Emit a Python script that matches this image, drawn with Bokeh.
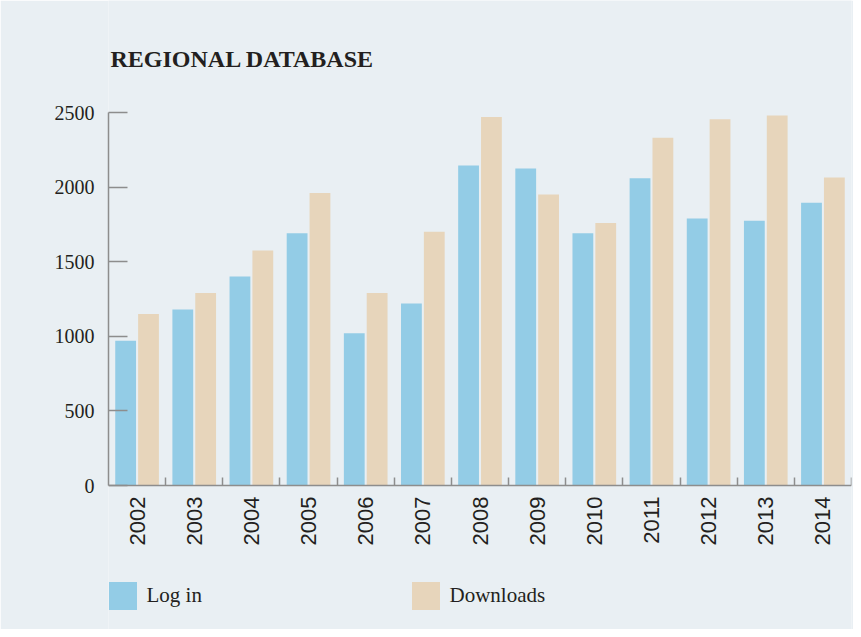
import math
from bokeh.plotting import figure
from bokeh.models import (ColumnDataSource, FixedTicker, Label, Legend, LegendItem, Range1d)
from bokeh.transform import dodge
from bokeh.embed import file_html
from bokeh.resources import INLINE

years = ["2002", "2003", "2004", "2005", "2006", "2007", "2008",
         "2009", "2010", "2011", "2012", "2013", "2014"]
login = [970, 1180, 1400, 1690, 1020, 1220, 2145, 2125, 1690, 2060, 1790, 1775, 1895]
downloads = [1150, 1290, 1575, 1960, 1290, 1700, 2470, 1950, 1760, 2330, 2455, 2480, 2065]
y_ticks = [0, 500, 1000, 1500, 2000, 2500]

BG = "#e9eff3"
BLUE = "#93cce6"
BEIGE = "#e7d5bb"
AXIS = "#8d8d8d"
TEXT = "#231f20"

W, H = 853, 629
FRAME_LEFT, FRAME_RIGHT = 108, 851
Y0_PX, Y2500_PX = 485, 112          # pixel rows of value 0 and 2500
ppu = (Y0_PX - Y2500_PX) / 2500.0    # pixels per unit
y_lo = -(H - Y0_PX) / ppu
y_hi = 2500 + Y2500_PX / ppu

idx = list(range(len(years)))
src = ColumnDataSource(dict(x=idx, login=login, downloads=downloads))

p = figure(width=W, height=H, output_backend="svg", toolbar_location=None,
           title=None,
           x_range=Range1d(-0.5, len(years) - 0.5), y_range=Range1d(y_lo, y_hi),
           min_border_left=FRAME_LEFT, min_border_right=W - FRAME_RIGHT,
           min_border_top=0, min_border_bottom=0)
p.background_fill_color = BG
p.border_fill_color = BG
p.outline_line_color = None
p.grid.visible = False

r1 = p.vbar(x=dodge("x", -0.2, range=p.x_range), top="login", width=0.364,
            source=src, color=BLUE, line_color=None)
r2 = p.vbar(x=dodge("x", 0.2, range=p.x_range), top="downloads", width=0.364,
            source=src, color=BEIGE, line_color=None)

# x axis (sits at value 0 inside the frame)
xa = p.xaxis[0]
xa.fixed_location = 0
xa.ticker = FixedTicker(ticks=idx, minor_ticks=[i + 0.5 for i in idx])
xa.major_label_overrides = {i: y for i, y in zip(idx, years)}
xa.major_tick_line_color = None
xa.minor_tick_in = 8
xa.minor_tick_out = 0
xa.minor_tick_line_color = AXIS
xa.minor_tick_line_width = 1.5
xa.axis_line_color = AXIS
xa.axis_line_width = 1.5
xa.major_label_orientation = math.pi / 2
xa.major_label_text_font = "Liberation Sans"
xa.major_label_text_font_size = "22px"
xa.major_label_text_color = TEXT
xa.major_label_standoff = 5

# y axis
ya = p.yaxis[0]
ya.bounds = (0, 2500)
ya.ticker = FixedTicker(ticks=y_ticks, minor_ticks=[])
ya.major_tick_in = 19
ya.major_tick_out = 0
ya.major_tick_line_color = AXIS
ya.major_tick_line_width = 1.5
ya.axis_line_color = AXIS
ya.axis_line_width = 1.5
ya.major_label_text_font = "Liberation Serif"
ya.major_label_text_font_size = "20px"
ya.major_label_text_color = TEXT
ya.major_label_standoff = 14

title = Label(x=2, y=H - 58, x_units="screen", y_units="screen",
              text="REGIONAL DATABASE", text_font="Liberation Serif",
              text_font_style="bold", text_font_size="24px", text_color=TEXT,
              text_baseline="alphabetic")
p.add_layout(title)

def make_legend(label, rend, xloc):
    lg = Legend(items=[LegendItem(label=label, renderers=[rend])],
                location=(xloc - 3.5, H - 612.5), padding=0, margin=0,
                glyph_width=35, glyph_height=35, label_standoff=7,
                label_text_font="Liberation Serif", label_text_font_size="21px",
                label_text_color=TEXT, border_line_color=None,
                background_fill_alpha=0, label_height=35)
    p.add_layout(lg)

make_legend("Log in", r1, 0)
make_legend("Downloads", r2, 303)

open("out.html", "w").write(file_html(p, INLINE))
